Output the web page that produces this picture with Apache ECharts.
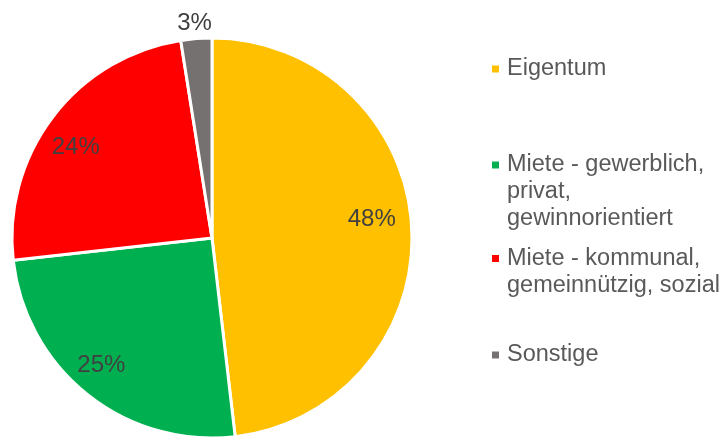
<!DOCTYPE html>
<html><head><meta charset="utf-8">
<script src="https://cdn.jsdelivr.net/npm/echarts@6/dist/echarts.min.js"></script>
<style>html,body{margin:0;padding:0;background:#fff}#c{width:727px;height:438px}</style>
</head><body><div id="c"></div>
<script>
const categories = ['Eigentum', 'Miete - gewerblich,\nprivat,\ngewinnorientiert', 'Miete - kommunal,\ngemeinnützig, sozial', 'Sonstige'];
const shares = [48.2, 25.1, 24.3, 2.5];
const colors = ['#FFC000', '#00B050', '#FF0000', '#767171'];

const FONT = 'Liberation Sans, Arial, sans-serif';
const LH = 27;
const legendIconCenters = [69, 165, 258.5, 355];
const labelOffsets = [[-5, -9], [-8, -2], [-5, 9], [21, -10]];

const legends = categories.map((name, i) => {
  const n = name.split('\n').length;
  const H = (2 * n - 1) * LH;
  return {
    data: [name], orient: 'vertical', left: 492, top: legendIconCenters[i] - H / 2,
    padding: 0, itemWidth: 7, itemHeight: 7, icon: 'rect', selectedMode: false,
    itemStyle: { borderWidth: 0 },
    formatter: nm => '\n'.repeat(nm.split('\n').length - 1) + nm,
    textStyle: { fontSize: 23.5, lineHeight: LH, color: '#595959', fontFamily: FONT, padding: [0, 0, 0, 3] }
  };
});

const fmt = p => Math.round(p.value) + '%';

const mainData = categories.map((name, i) => {
  const d = { name, value: shares[i], itemStyle: { color: colors[i] } };
  if (i === 3) {
    d.label = { show: true, position: 'outside', offset: labelOffsets[i] };
    d.labelLine = { show: false, length: 5, length2: 0 };
  }
  return d;
});

const labelData = categories.map((name, i) => ({
  name, value: shares[i],
  label: i === 3 ? { show: false } : { show: true, offset: labelOffsets[i] }
}));

const chart = echarts.init(document.getElementById('c'), null, { renderer: 'canvas' });
chart.setOption({
  animation: false,
  legend: legends,
  series: [
    {
      type: 'pie', center: [212, 238], radius: [0, 200], startAngle: 90, clockwise: true,
      avoidLabelOverlap: false, silent: true,
      itemStyle: { borderColor: '#fff', borderWidth: 3 },
      label: { show: false, formatter: fmt, fontSize: 24, color: '#404040', fontFamily: FONT },
      labelLine: { show: false },
      data: mainData
    },
    {
      type: 'pie', center: [212, 238], radius: [0, 324], startAngle: 90, clockwise: true,
      avoidLabelOverlap: false, silent: true, legendHoverLink: false,
      itemStyle: { color: 'rgba(0,0,0,0)', borderWidth: 0 },
      label: { show: true, position: 'inside', formatter: fmt, fontSize: 24, color: '#404040', fontFamily: FONT },
      labelLine: { show: false },
      emphasis: { disabled: true },
      data: labelData
    }
  ]
});
</script></body></html>
